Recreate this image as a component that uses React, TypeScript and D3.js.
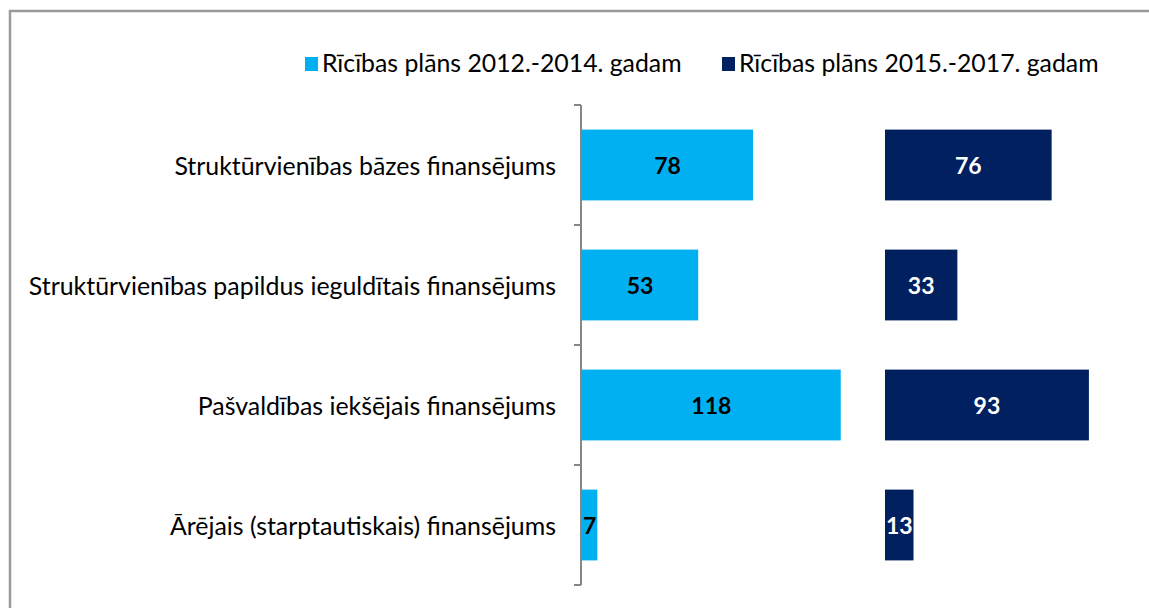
import * as d3 from "d3";

const categories = [
  "Struktūrvienības bāzes finansējums",
  "Struktūrvienības papildus ieguldītais finansējums",
  "Pašvaldības iekšējais finansējums",
  "Ārējais (starptautiskais) finansējums",
];
const plan2012 = [78, 53, 118, 7];
const plan2015 = [76, 33, 93, 13];
const seriesNames = ["Rīcības plāns 2012.-2014. gadam", "Rīcības plāns 2015.-2017. gadam"];

const LIGHT = "#00B0F0";
const DARK = "#002060";
const FONT = "Lato, 'Open Sans', sans-serif";

const App = () => {
  const width = 1149;
  const height = 608;

  const y = d3
    .scaleBand()
    .domain(categories)
    .range([105, 585])
    .paddingInner(0.41)
    .paddingOuter(0.205);

  const x = d3.scaleLinear().domain([0, 135]).range([0, 296]);

  const axisX = 581;
  const panels = [
    { values: plan2012, x0: 582, color: LIGHT, textColor: "#000" },
    { values: plan2015, x0: 885, color: DARK, textColor: "#fff" },
  ];
  const tickYs = d3.range(categories.length + 1).map((i) => 105 + y.step() * i);

  const legend = [
    { label: seriesNames[0], color: LIGHT, x: 305 },
    { label: seriesNames[1], color: DARK, x: 722 },
  ];

  return (
    <div style={{ position: "fixed", left: 0, top: 0 }}>
      <svg width={width} height={height} style={{ display: "block", background: "#fff" }}>
        {/* frame */}
        <rect x={10} y={11} width={1300} height={800} fill="none" stroke="#9a9a9a" strokeWidth={2.5} />

        {/* legend */}
        {legend.map((l) => (
          <g key={l.label}>
            <rect x={l.x} y={57} width={13} height={14} fill={l.color} />
            <text x={l.x + 17} y={72} fontFamily={FONT} fontSize={24.8} fill="#000">
              {l.label}
            </text>
          </g>
        ))}

        {/* axis */}
        <line x1={axisX} x2={axisX} y1={105} y2={585} stroke="#868686" strokeWidth={2} />
        {tickYs.map((t) => (
          <line key={t} x1={574} x2={axisX} y1={t} y2={t} stroke="#868686" strokeWidth={2} />
        ))}

        {/* category labels */}
        {categories.map((c) => (
          <text
            key={c}
            x={556}
            y={(y(c) ?? 0) + y.bandwidth() / 2}
            textAnchor="end"
            dominantBaseline="central"
            fontFamily={FONT}
            fontSize={24.9}
            fill="#000"
          >
            {c}
          </text>
        ))}

        {/* bars */}
        {panels.map((p, pi) =>
          categories.map((c, i) => {
            const w = x(p.values[i]);
            const yy = y(c) ?? 0;
            return (
              <g key={`${pi}-${c}`}>
                <rect x={p.x0} y={yy} width={w} height={y.bandwidth()} fill={p.color} />
                <text
                  x={p.x0 + w / 2}
                  y={yy + y.bandwidth() / 2}
                  textAnchor="middle"
                  dominantBaseline="central"
                  fontFamily={FONT}
                  fontWeight="bold"
                  fontSize={23}
                  fill={p.textColor}
                >
                  {p.values[i]}
                </text>
              </g>
            );
          })
        )}
      </svg>
    </div>
  );
};

export default App;
